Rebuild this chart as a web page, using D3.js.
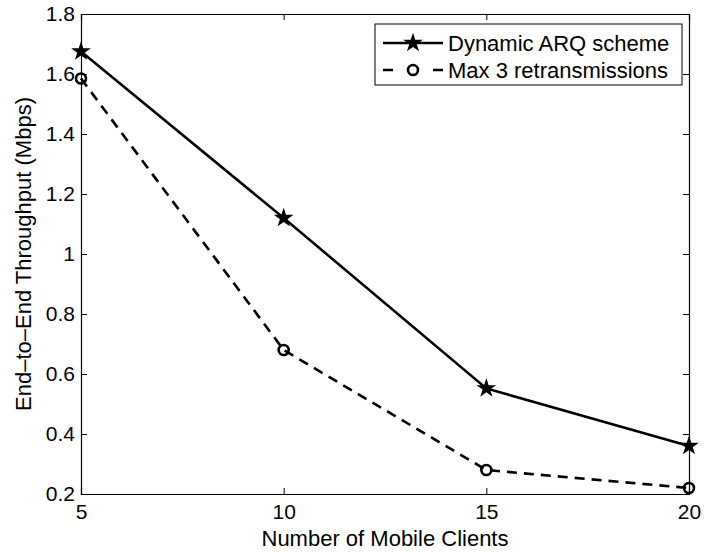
<!DOCTYPE html>
<html>
<head>
<meta charset="utf-8">
<script src="https://cdn.jsdelivr.net/npm/d3@7"></script>
<style>
  body { margin: 0; background: #fff; }
  text { font-family: "Liberation Sans", Arial, sans-serif; fill: #000; }
</style>
</head>
<body>
<svg id="chart" width="704" height="552"></svg>
<script>
// data
const clients = [5, 10, 15, 20];
const dynamicArq = [1.675, 1.12, 0.552, 0.36];
const max3Retx = [1.585, 0.68, 0.28, 0.22];
const xTicks = [5, 10, 15, 20];
const yTicks = [0.2, 0.4, 0.6, 0.8, 1, 1.2, 1.4, 1.6, 1.8];
const seriesNames = ["Dynamic ARQ scheme", "Max 3 retransmissions"];

const svg = d3.select("#chart");
// plot box (window.top is reserved, so use a margin object)
const box = { l: 81, r: 689, t: 14, b: 494 };

let x = d3.scaleLinear().domain([5, 20]).range([box.l, box.r]);
let y = d3.scaleLinear().domain([0.2, 1.8]).range([box.b, box.t]);

const tickFont = 21, labelFont = 22, legendFont = 22, tickLen = 6;

// axes (ticks point inward, mirrored on top / right like matlab box on)
let gx = svg.append("g").attr("transform", `translate(0,${box.b})`)
  .call(d3.axisBottom(x).tickValues(xTicks).tickSize(-tickLen).tickPadding(10).tickFormat(d3.format("d")));
let gxTop = svg.append("g").attr("transform", `translate(0,${box.t})`)
  .call(d3.axisTop(x).tickValues(xTicks).tickSize(-tickLen).tickFormat(""));
let gy = svg.append("g").attr("transform", `translate(${box.l},0)`)
  .call(d3.axisLeft(y).tickValues(yTicks).tickSize(-tickLen).tickPadding(6).tickFormat(d => String(+d.toFixed(1))));
let gyRight = svg.append("g").attr("transform", `translate(${box.r},0)`)
  .call(d3.axisRight(y).tickValues(yTicks).tickSize(-tickLen).tickFormat(""));

[gx, gxTop, gy, gyRight].forEach(g => {
  g.select(".domain").attr("stroke", "#000").attr("stroke-width", 1.2);
  g.selectAll(".tick line").attr("stroke", "#000").attr("stroke-width", 1);
  g.selectAll("text").attr("font-size", tickFont).attr("font-family", "Liberation Sans, Arial, sans-serif").attr("fill", "#000");
});

// axis titles
svg.append("text")
  .attr("x", (box.l + box.r) / 2).attr("y", 546)
  .attr("text-anchor", "middle").attr("font-size", labelFont)
  .text("Number of Mobile Clients");
svg.append("text")
  .attr("transform", `translate(31,${(box.t + box.b) / 2}) rotate(-90)`)
  .attr("text-anchor", "middle").attr("font-size", labelFont)
  .text("End\u2013to\u2013End Throughput (Mbps)");

let line = d3.line().x((d, i) => x(clients[i])).y(d => y(d));
const star = d3.symbol().type(d3.symbolStar).size(120);

// dynamic ARQ - solid w/ stars
svg.append("path").datum(dynamicArq)
  .attr("d", line).attr("fill", "none").attr("stroke", "#000").attr("stroke-width", 2.6);
svg.selectAll(".star").data(dynamicArq).enter().append("path")
  .attr("class", "star")
  .attr("d", star)
  .attr("transform", (d, i) => `translate(${x(clients[i])},${y(d)})`)
  .attr("fill", "#000");

// max 3 retransmissions - dashed w/ open circles
svg.append("path").datum(max3Retx)
  .attr("d", line).attr("fill", "none").attr("stroke", "#000").attr("stroke-width", 2.6)
  .attr("stroke-dasharray", "10,7");
svg.selectAll(".circ").data(max3Retx).enter().append("circle")
  .attr("class", "circ")
  .attr("cx", (d, i) => x(clients[i])).attr("cy", d => y(d))
  .attr("r", 5).attr("fill", "none").attr("stroke", "#000").attr("stroke-width", 2.6);

// legend
let lg = svg.append("g");
lg.append("rect").attr("x", 375).attr("y", 24).attr("width", 307).attr("height", 61)
  .attr("fill", "#fff").attr("stroke", "#000").attr("stroke-width", 1);
// row 1
lg.append("line").attr("x1", 383).attr("x2", 443).attr("y1", 43).attr("y2", 43)
  .attr("stroke", "#000").attr("stroke-width", 2.6);
lg.append("path").attr("d", star).attr("transform", "translate(413,43)").attr("fill", "#000");
// row 2
lg.append("line").attr("x1", 383).attr("x2", 443).attr("y1", 70).attr("y2", 70)
  .attr("stroke", "#000").attr("stroke-width", 2.6).attr("stroke-dasharray", "10,40,10");
lg.append("circle").attr("cx", 413).attr("cy", 70).attr("r", 5)
  .attr("fill", "none").attr("stroke", "#000").attr("stroke-width", 2.6);
lg.selectAll(".ltxt").data(seriesNames).enter().append("text")
  .attr("x", 448).attr("y", (d, i) => 43 + i * 27)
  .attr("dy", "0.36em").attr("font-size", legendFont)
  .text(d => d);
</script>
</body>
</html>
